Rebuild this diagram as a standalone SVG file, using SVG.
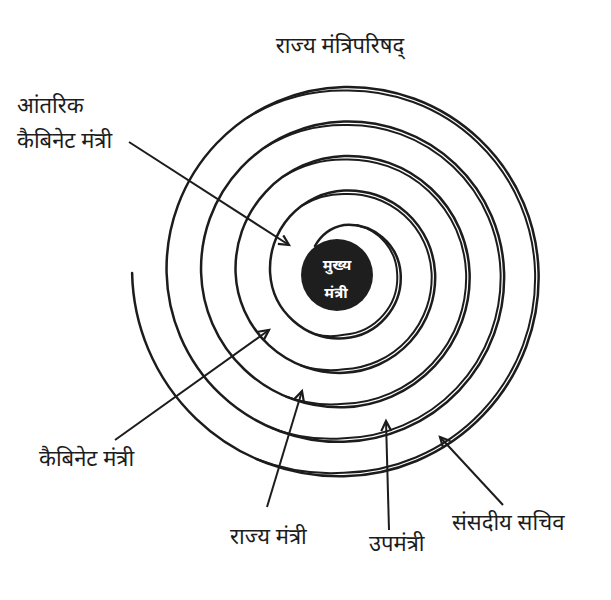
<svg xmlns="http://www.w3.org/2000/svg" width="611" height="600" viewBox="0 0 611 600">
<defs>
<style>
.sp{fill:none;stroke:#1c1c1c;stroke-width:2.5;stroke-linecap:round}
.sp2{fill:none;stroke:#1c1c1c;stroke-width:2;stroke-linecap:round}
.ar{fill:none;stroke:#1c1c1c;stroke-width:2;marker-end:url(#ah)}
.lb{font-family:"Noto Sans Devanagari","Lohit Devanagari","Noto Sans",sans-serif;font-size:22px;fill:#1c1c1c}
.ct{font-family:"Noto Sans Devanagari","Lohit Devanagari","Noto Sans",sans-serif;font-size:15px;fill:#ffffff;font-weight:bold;text-anchor:middle}
</style>
<marker id="ah" markerWidth="14" markerHeight="14" refX="11" refY="6" orient="auto" markerUnits="userSpaceOnUse">
<path d="M1,1 L11,6 L1,11" fill="none" stroke="#1c1c1c" stroke-width="2.2"/>
</marker>
</defs>
<rect width="611" height="600" fill="#ffffff"/>
<g id="title"><text class="lb" x="340" y="53" text-anchor="middle" font-size="27">राज्य मंत्रिपरिषद्</text></g>
<g id="spiral">
<path class="sp" d="M 315 246 A 42 42 0 0 1 344 225 A 52.3 52.3 0 0 1 400.6 273 A 61 61 0 0 1 344 338.3 A 69.6 69.6 0 0 1 270.1 273 A 78.2 78.2 0 0 1 344 190.5 A 86.8 86.8 0 0 1 435.1 273 A 95.5 95.5 0 0 1 344 372.8 A 104.1 104.1 0 0 1 235.6 273 A 112.7 112.7 0 0 1 344 156 A 121.3 121.3 0 0 1 469.6 273 A 130 130 0 0 1 344 407.3 A 138.6 138.6 0 0 1 201.1 273 A 147.2 147.2 0 0 1 344 121.5 A 155.8 155.8 0 0 1 504.1 273 A 164.5 164.5 0 0 1 344 441.8 A 173.1 173.1 0 0 1 166.6 273 A 181.7 181.7 0 0 1 344 87 A 190.3 190.3 0 0 1 538.6 273 A 199 199 0 0 1 344 476.3 A 207.6 207.6 0 0 1 132.1 273"/>
<path class="sp2" d="M 356.8 225.3 A 51 51 0 0 1 397.1 273 A 57.5 57.5 0 0 1 344 334.8 A 64 64 0 0 1 315.4 334.3"/>
<path class="sp2" d="M 301.9 205.7 A 79.2 79.2 0 0 1 344 194 A 83.3 83.3 0 0 1 431.6 273 A 92 92 0 0 1 344 369.3 A 99 99 0 0 1 300.9 365.5"/>
<path class="sp2" d="M 283.6 176.4 A 113.7 113.7 0 0 1 344 159.5 A 117.8 117.8 0 0 1 466.1 273 A 126.5 126.5 0 0 1 344 403.8 A 134 134 0 0 1 286.3 396.8"/>
<path class="sp2" d="M 265.4 147.2 A 148.2 148.2 0 0 1 344 125 A 152.3 152.3 0 0 1 500.6 273 A 161 161 0 0 1 344 438.3 A 168 168 0 0 1 271.7 428.1"/>
<path class="sp2" d="M 247.1 117.9 A 182.7 182.7 0 0 1 344 90.5 A 186.8 186.8 0 0 1 535.1 273 A 195.5 195.5 0 0 1 344 472.8 A 203 203 0 0 1 257.1 459.3"/>
</g>
<g id="center">
<circle cx="337" cy="275" r="36" fill="#1e1e1e"/>
<text class="ct" x="337" y="270">मुख्य</text>
<text class="ct" x="336" y="298">मंत्री</text>
</g>
<g id="connectors">
<line class="ar" x1="129" y1="142" x2="289" y2="245"/>
<line class="ar" x1="115" y1="440" x2="269" y2="330"/>
<line class="ar" x1="267" y1="507" x2="302" y2="391"/>
<line class="ar" x1="389" y1="530" x2="386" y2="421"/>
<line class="ar" x1="503" y1="505" x2="440" y2="437"/>
</g>
<g id="label-inner-cabinet">
<text class="lb" x="17" y="113">आंतरिक</text>
<text class="lb" x="17" y="148">कैबिनेट मंत्री</text>
</g>
<g id="label-cabinet"><text class="lb" x="39" y="466">कैबिनेट मंत्री</text></g>
<g id="label-state"><text class="lb" x="230" y="544">राज्य मंत्री</text></g>
<g id="label-deputy"><text class="lb" x="369" y="551">उपमंत्री</text></g>
<g id="label-secretary"><text class="lb" x="452" y="530">संसदीय सचिव</text></g>
</svg>
